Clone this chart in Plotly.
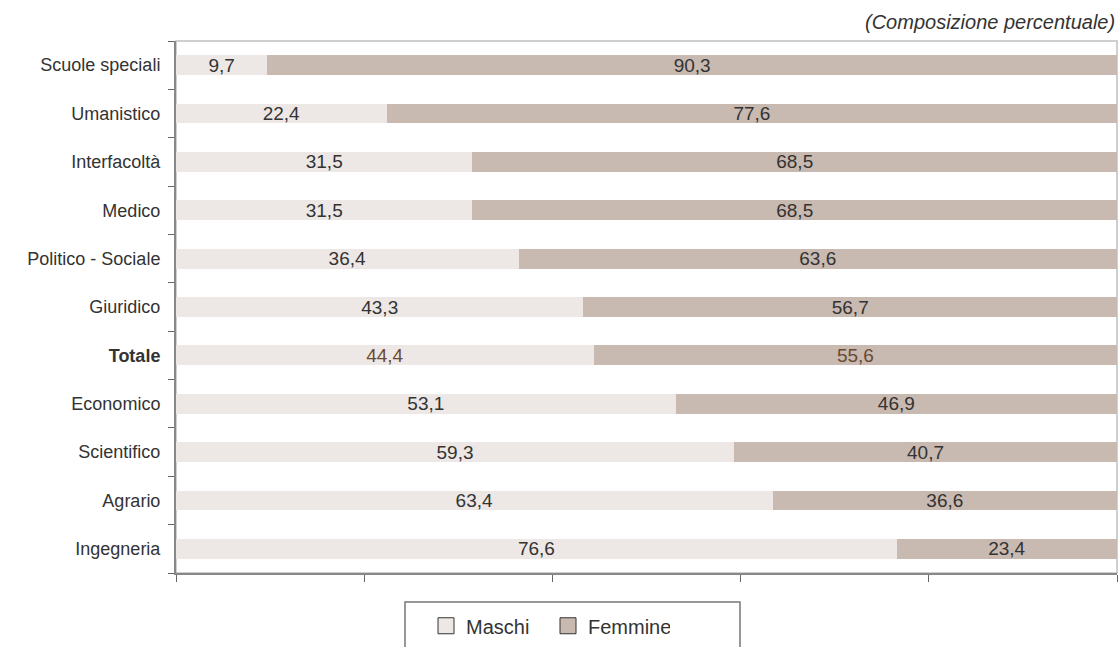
import plotly.graph_objects as go

categories = ["Scuole speciali", "Umanistico", "Interfacoltà", "Medico", "Politico - Sociale",
              "Giuridico", "Totale", "Economico", "Scientifico", "Agrario", "Ingegneria"]
maschi = [9.7, 22.4, 31.5, 31.5, 36.4, 43.3, 44.4, 53.1, 59.3, 63.4, 76.6]
femmine = [90.3, 77.6, 68.5, 68.5, 63.6, 56.7, 55.6, 46.9, 40.7, 36.6, 23.4]
series_names = ["Maschi", "Femmine"]
series_colors = ["#ede8e5", "#c8b9b1"]
tick_labels = ["<b>Totale</b>" if c == "Totale" else c for c in categories]

txt_col = ["#6b4a33" if c == "Totale" else "#333333" for c in categories]
FONT = "Liberation Sans"

W, H = 1118, 647
L, R, T, B = 176, 1, 41, 74

fig = go.Figure()
for vals, name, col in zip([maschi, femmine], series_names, series_colors):
    fig.add_trace(go.Bar(
        y=categories, x=vals, orientation="h", name=name, showlegend=False,
        marker=dict(color=col, line=dict(width=0)),
        text=[f"{v:.1f}".replace(".", ",") for v in vals],
        textposition="inside", insidetextanchor="middle",
        textfont=dict(color=txt_col, size=19, family=FONT),
        constraintext="none", width=0.41,
    ))
# legend entries
for name, col in zip(series_names, series_colors):
    fig.add_trace(go.Scatter(
        x=[None], y=[None], mode="markers", name=name,
        marker=dict(symbol="square", size=16, color=col, line=dict(color="#333333", width=1)),
    ))

plot_w = W - L - R
plot_h = H - T - B
def px_x(page_x):
    return (page_x - L) / plot_w
def px_y(page_y):
    return (H - B - page_y) / plot_h

fig.update_layout(
    barmode="stack",
    width=W, height=H,
    margin=dict(l=L, r=R, t=T, b=B),
    paper_bgcolor="white", plot_bgcolor="white",
    font=dict(family=FONT, size=18, color="#333333"),
    separators=",.",
    showlegend=True,
    hovermode=False,
    legend=dict(
        orientation="h", x=px_x(426), xanchor="left", y=-0.0625, yanchor="top",
        borderwidth=0, bgcolor="rgba(0,0,0,0)", font=dict(size=20, color="#333333"),
        entrywidth=77, traceorder="normal",
    ),
    shapes=[
        dict(type="rect", xref="paper", yref="paper", x0=0, x1=1, y0=0, y1=1,
             line=dict(color="#c0c0c0", width=1.5), layer="below"),
        dict(type="rect", xref="paper", yref="paper", x0=px_x(405), x1=px_x(740),
             y0=px_y(670), y1=px_y(602), line=dict(color="#777777", width=1.5)),
    ],
    annotations=[dict(text="<i>(Composizione percentuale)</i>", xref="paper", yref="paper",
                      x=1, y=1, xanchor="right", yanchor="bottom", yshift=6,
                      showarrow=False, font=dict(size=20, color="#333333"))],
)
fig.update_xaxes(
    range=[0, 100], tickvals=[0, 20, 40, 60, 80, 100], showticklabels=False,
    ticks="outside", ticklen=7, tickcolor="#666666", showgrid=False, zeroline=False,
    showline=True, linecolor="#888888", linewidth=2, automargin=False,
)
fig.update_yaxes(
    autorange="reversed", tickmode="array", tickvals=categories, ticktext=tick_labels,
    tickson="boundaries", ticks="outside", ticklen=6, tickcolor="#666666",
    showline=True, linecolor="#888888", linewidth=2, showgrid=False,
    ticklabelstandoff=10, automargin=False,
)

fig.write_html(
    "out.html",
    config={"displayModeBar": False, "staticPlot": True},
    post_script="document.body.style.margin='0';document.body.style.overflow='hidden';",
)
